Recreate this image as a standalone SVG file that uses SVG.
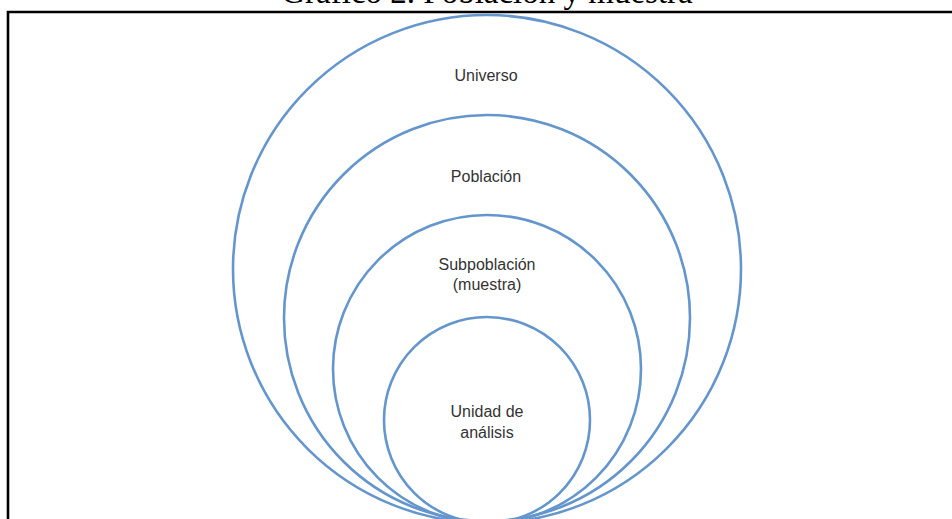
<svg xmlns="http://www.w3.org/2000/svg" width="952" height="519" viewBox="0 0 952 519">
<style>
.c{fill:none;stroke:#6496cd;stroke-width:2.6}
.t{font-family:"Liberation Sans",Arial,sans-serif;font-size:16px;fill:#333;text-anchor:middle}
.title{font-family:"Liberation Serif","Times New Roman",serif;font-size:33px;fill:#000;text-anchor:middle}
</style>
<rect width="952" height="519" fill="#fff"/>
<text class="title" x="487" y="3">Gráfico 2. Población y muestra</text>
<path d="M8 519 V12 H952" fill="none" stroke="#000" stroke-width="2.6"/>
<g id="universo">
<circle class="c" cx="487" cy="269" r="254"/>
<text class="t" x="486" y="81">Universo</text>
</g>
<g id="poblacion">
<circle class="c" cx="487" cy="318" r="203"/>
<text class="t" x="486" y="182">Población</text>
</g>
<g id="subpoblacion">
<circle class="c" cx="487" cy="369" r="154"/>
<text class="t" x="487" y="270">Subpoblación</text>
<text class="t" x="487" y="290">(muestra)</text>
</g>
<g id="unidad">
<circle class="c" cx="487" cy="420" r="103"/>
<text class="t" x="487" y="417">Unidad de</text>
<text class="t" x="487" y="438">análisis</text>
</g>
<g id="connectors"/>
</svg>
